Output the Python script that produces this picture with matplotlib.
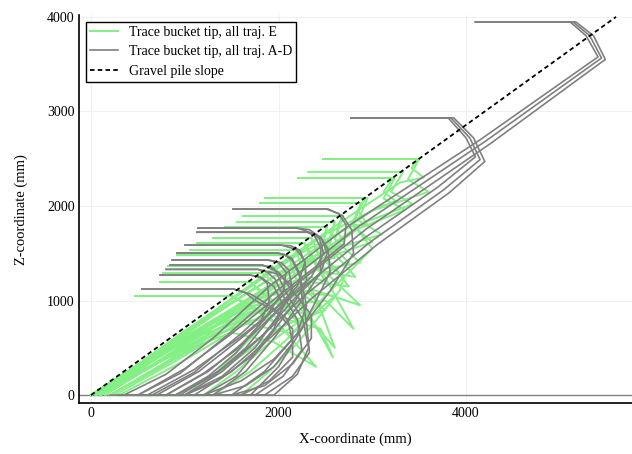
import matplotlib
matplotlib.use('Agg')
import matplotlib.pyplot as plt

plt.rcParams['font.family'] = ['Liberation Serif', 'DejaVu Serif']

# bucket tip traces, traj. A-D (gray), points in mm (x, z), forward in time
gray_traj = [
    # reach the top of the pile
    [(350, 0), (800, 220), (1300, 600), (1900, 1150), (2760, 1800), (4150, 2700), (5408, 3577), (5280, 3800), (5110, 3947), (4100, 3947)],
    [(500, 0), (950, 230), (1450, 630), (2000, 1120), (2850, 1780), (4200, 2680), (5445, 3565), (5320, 3800), (5140, 3947), (4100, 3947)],
    [(650, 0), (1100, 240), (1600, 650), (2100, 1100), (2940, 1760), (4260, 2660), (5485, 3550), (5360, 3800), (5170, 3947), (4100, 3947)],
    [(800, 0), (1250, 250), (1700, 620), (2150, 1050), (2900, 1650), (3700, 2200), (4100, 2520), (4000, 2720), (3810, 2931), (2773, 2931)],
    [(950, 0), (1400, 280), (1850, 650), (2250, 1030), (2980, 1620), (3760, 2170), (4150, 2490), (4040, 2720), (3840, 2931), (2773, 2931)],
    [(1100, 0), (1500, 250), (1950, 640), (2350, 1020), (3050, 1590), (3820, 2140), (4200, 2470), (4080, 2720), (3870, 2931), (2773, 2931)],
    # lower retractions
    [(300, 0), (1500, 0), (1850, 250), (2200, 650), (2550, 1100), (2800, 1500), (2780, 1750), (2680, 1900), (2530, 1968), (1515, 1968)],
    [(500, 0), (1000, 280), (1500, 650), (2000, 1050), (2450, 1400), (2700, 1600), (2720, 1800), (2640, 1920), (2510, 1968), (1515, 1968)],
    [(300, 0), (1300, 0), (1650, 250), (1950, 600), (2250, 1000), (2450, 1300), (2450, 1560), (2370, 1710), (2200, 1767), (1141, 1767)],
    [(600, 0), (1100, 270), (1600, 620), (2050, 980), (2350, 1250), (2480, 1500), (2430, 1680), (2330, 1750), (2180, 1767), (1141, 1767)],
    [(400, 0), (1700, 0), (2000, 300), (2250, 700), (2450, 1100), (2550, 1300), (2530, 1540), (2450, 1670), (2300, 1725), (1131, 1725)],
    [(200, 0), (1000, 0), (1400, 250), (1800, 600), (2150, 1000), (2450, 1300), (2520, 1500), (2460, 1650), (2310, 1722), (1131, 1722)],
    [(300, 0), (1200, 0), (1550, 200), (1850, 550), (2150, 950), (2300, 1200), (2280, 1420), (2190, 1540), (2030, 1587), (1003, 1587)],
    [(700, 0), (1150, 250), (1600, 600), (1950, 900), (2200, 1150), (2280, 1400), (2230, 1530), (2130, 1580), (2010, 1587), (1003, 1587)],
    [(400, 0), (1850, 0), (2150, 200), (2330, 450), (2300, 750), (2250, 1050), (2220, 1300), (2140, 1450), (2000, 1503), (917, 1503)],
    [(1200, 0), (1600, 150), (1950, 380), (2200, 650), (2300, 950), (2230, 1250), (2150, 1420), (2060, 1490), (1980, 1503), (917, 1503)],
    [(300, 0), (1000, 0), (1400, 200), (1750, 500), (2000, 850), (2150, 1100), (2110, 1320), (2030, 1400), (1900, 1429), (864, 1429)],
    [(800, 0), (1200, 230), (1550, 480), (1850, 800), (2050, 1100), (2080, 1300), (2000, 1400), (1880, 1429), (864, 1429)],
    [(400, 0), (1950, 0), (2200, 220), (2320, 500), (2260, 800), (2100, 1050), (2000, 1250), (1950, 1340), (1820, 1376), (843, 1376)],
    [(1500, 0), (1850, 100), (2150, 330), (2350, 600), (2350, 850), (2150, 1100), (2000, 1300), (1830, 1376), (843, 1376)],
    [(400, 0), (1750, 0), (2050, 200), (2250, 480), (2200, 800), (2050, 1050), (1960, 1230), (1880, 1300), (1780, 1330), (800, 1330)],
    [(900, 0), (1300, 200), (1650, 500), (1900, 800), (2100, 1000), (2150, 1150), (2000, 1280), (1780, 1330), (800, 1330)],
    [(300, 0), (900, 0), (1250, 200), (1550, 450), (1800, 750), (1900, 1000), (1880, 1180), (1800, 1250), (1700, 1270), (736, 1270)],
    [(1000, 0), (1350, 150), (1700, 400), (1950, 700), (2050, 950), (1950, 1150), (1820, 1240), (1700, 1270), (736, 1270)],
    [(300, 0), (1600, 0), (1900, 150), (2150, 400), (2150, 700), (1950, 900), (1750, 1000), (1650, 1080), (1520, 1122), (544, 1122)],
    [(1300, 0), (1650, 100), (1950, 300), (2150, 550), (2100, 800), (1900, 950), (1700, 1070), (1520, 1122), (544, 1122)],
]

# bucket tip traces, traj. E (green)
green_traj = [
    [(50, 0), (600, 360), (1300, 840), (2200, 1420), (3000, 1950), (3600, 2150), (3380, 2280), (3500, 2497), (2475, 2497)],
    [(0, 0), (600, 390), (1300, 880), (2000, 1380), (2800, 1920), (3300, 2250), (3550, 2300), (3420, 2400), (3480, 2497), (2475, 2497)],
    [(100, 0), (650, 350), (1450, 850), (2200, 1340), (2900, 1820), (3430, 2020), (3200, 2150), (3330, 2360), (2315, 2360)],
    [(150, 0), (700, 340), (1500, 830), (2250, 1330), (2850, 1760), (3350, 1960), (3120, 2080), (3240, 2296), (2208, 2296)],
    [(0, 0), (500, 320), (1100, 740), (1800, 1220), (2500, 1700), (3100, 2000), (3250, 2050), (3120, 2150), (3220, 2296), (2208, 2296)],
    [(50, 0), (600, 330), (1250, 760), (1900, 1160), (2550, 1530), (3100, 1700), (2850, 1850), (2950, 2085), (1856, 2085)],
    [(0, 0), (450, 290), (1000, 680), (1600, 1080), (2200, 1480), (2800, 1800), (2950, 1800), (2850, 1950), (2930, 2085), (1856, 2085)],
    [(200, 0), (750, 320), (1450, 760), (2050, 1130), (2650, 1500), (3000, 1620), (2780, 1800), (2880, 2032), (1803, 2032)],
    [(300, 0), (1300, 0), (1700, 250), (2100, 600), (2450, 1000), (2800, 1350), (3000, 1550), (2800, 1800), (2880, 2032), (1803, 2032)],
    [(100, 0), (650, 320), (1250, 700), (1850, 1040), (2400, 1320), (2870, 1400), (2600, 1650), (2690, 1894), (1621, 1894)],
    [(50, 0), (500, 300), (1000, 650), (1500, 980), (2000, 1280), (2500, 1530), (2700, 1600), (2620, 1750), (2680, 1894), (1621, 1894)],
    [(250, 0), (900, 360), (1500, 720), (2050, 1050), (2500, 1300), (2820, 1250), (2520, 1580), (2600, 1831), (1557, 1831)],
    [(300, 0), (1000, 0), (1350, 250), (1700, 600), (2050, 950), (2400, 1250), (2750, 1400), (2550, 1600), (2600, 1831), (1557, 1831)],
    [(0, 0), (550, 320), (1150, 680), (1750, 1000), (2300, 1200), (2750, 1150), (2450, 1530), (2520, 1778), (1429, 1778)],
    [(0, 0), (450, 280), (950, 620), (1450, 950), (1950, 1250), (2400, 1450), (2600, 1450), (2480, 1620), (2510, 1778), (1429, 1778)],
    [(200, 0), (750, 300), (1300, 640), (1850, 940), (2350, 1120), (2870, 950), (2500, 1300), (2350, 1661), (1301, 1661)],
    [(400, 0), (1600, 0), (1900, 250), (2200, 550), (2450, 850), (2650, 1100), (2700, 1250), (2450, 1450), (2350, 1661), (1301, 1661)],
    [(300, 0), (950, 340), (1550, 700), (2050, 950), (2500, 1000), (2800, 700), (2550, 1150), (2280, 1608), (1131, 1608)],
    [(100, 0), (500, 270), (1000, 600), (1500, 900), (1950, 1150), (2350, 1250), (2500, 1200), (2350, 1450), (2270, 1608), (1131, 1608)],
    [(100, 0), (650, 300), (1200, 620), (1700, 880), (2200, 950), (2600, 500), (2450, 900), (2180, 1534), (1056, 1534)],
    [(200, 0), (800, 330), (1400, 660), (1900, 850), (2450, 700), (2580, 400), (2300, 900), (2100, 1481), (917, 1481)],
    [(0, 0), (400, 250), (900, 560), (1400, 850), (1850, 1050), (2300, 1100), (2450, 950), (2250, 1250), (2100, 1481), (917, 1481)],
    [(300, 0), (1200, 0), (1550, 250), (1900, 550), (2250, 800), (2500, 900), (2200, 1100), (1930, 1365), (821, 1365)],
    [(0, 0), (400, 240), (850, 510), (1300, 760), (1750, 950), (2200, 1000), (2350, 800), (2150, 1150), (1930, 1365), (821, 1365)],
    [(100, 0), (600, 290), (1150, 570), (1650, 760), (2150, 650), (2600, 1050), (2050, 1100), (1830, 1291), (768, 1291)],
    [(300, 0), (900, 0), (1300, 200), (1650, 450), (2000, 700), (2300, 850), (1900, 1000), (1700, 1196), (736, 1196)],
    [(0, 0), (350, 200), (800, 460), (1250, 700), (1700, 880), (2100, 900), (2300, 700), (2000, 950), (1700, 1196), (736, 1196)],
    [(50, 0), (500, 240), (1000, 480), (1500, 660), (1950, 560), (2400, 300), (2000, 750), (1500, 1048), (469, 1048)],
    [(0, 0), (300, 170), (700, 400), (1150, 630), (1600, 780), (1900, 800), (2050, 700), (1800, 900), (1500, 1048), (469, 1048)],
]

slope_x = [0, 5600]
slope_z = [0, 4000]

fig = plt.figure(figsize=(6.32, 4.54), dpi=100)
ax = fig.add_axes([0.125, 0.112, 0.875, 0.855])

green = '#84ef84'
gray = '#808080'

for i, t in enumerate(green_traj):
    xs = [p[0] for p in t]
    zs = [p[1] for p in t]
    ax.plot(xs, zs, color=green, lw=1.4, label='Trace bucket tip, all traj. E' if i == 0 else None, zorder=2)
for i, t in enumerate(gray_traj):
    xs = [p[0] for p in t]
    zs = [p[1] for p in t]
    ax.plot(xs, zs, color=gray, lw=1.2, label='Trace bucket tip, all traj. A-D' if i == 0 else None, zorder=3)

ax.axhline(0, color=gray, lw=1.0, zorder=1)
ax.plot(slope_x, slope_z, color='black', lw=1.3, dashes=(2.5, 1.8), label='Gravel pile slope', zorder=4)

ax.set_xlim(-128, 5770)
ax.set_ylim(-85, 4020)
ax.set_xticks([0, 2000, 4000])
ax.set_yticks([0, 1000, 2000, 3000, 4000])
ax.grid(True, color='#f0f0f0', lw=0.8)
ax.set_axisbelow(True)
ax.tick_params(length=0, labelsize=10, pad=3)
for s in ['top', 'right']:
    ax.spines[s].set_visible(False)
for s in ['left', 'bottom']:
    ax.spines[s].set_linewidth(1.2)

ax.set_xlabel('X-coordinate (mm)', fontsize=10.5, labelpad=9)
ax.set_ylabel('Z-coordinate (mm)', fontsize=10.5, labelpad=14)

leg = ax.legend(loc='upper left', fontsize=10, fancybox=False, edgecolor='black',
                framealpha=1, borderaxespad=0.5, handlelength=2.0, labelspacing=0.45,
                borderpad=0.3)
leg.get_frame().set_linewidth(1.0)

fig.savefig('out.png', dpi=100)
